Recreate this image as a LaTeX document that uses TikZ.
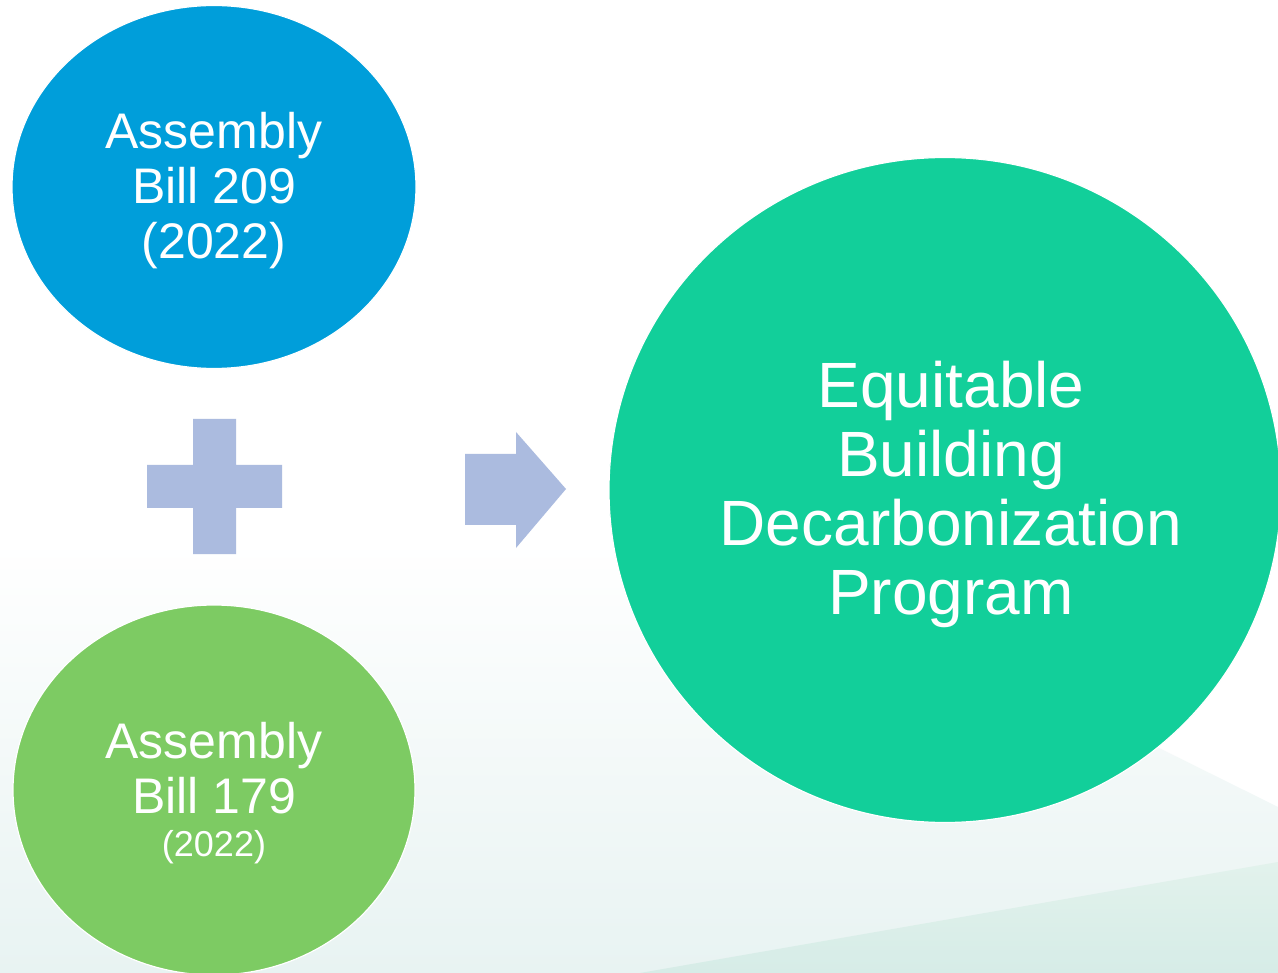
\documentclass[tikz,border=0pt]{standalone}
\usepackage{fontspec}
\setmainfont{Liberation Sans}
\usetikzlibrary{shapes.geometric}
\definecolor{billblue}{HTML}{009EDA}
\definecolor{billgreen}{HTML}{7DCB63}
\definecolor{progteal}{HTML}{12CF9A}
\definecolor{symblue}{HTML}{ABBBDF}
\definecolor{bgbottom}{HTML}{E8F3F2}
\definecolor{bandtop}{HTML}{E2F2EC}
\definecolor{bandbottom}{HTML}{D6ECE7}
\tikzset{
  bubble/.style={ellipse, inner sep=0pt, draw=white, line width=1.2pt},
  bubbletext/.style={inner sep=0pt, text=white, align=center},
  symbol/.style={fill=symblue, draw=none}
}
\begin{document}
\begin{tikzpicture}[x=1pt,y=-1pt]
\useasboundingbox (0,0) rectangle (1278,973);
% background
\fill[white] (0,0) rectangle (1278,973);
\shade[top color=white, bottom color=bgbottom] (0,540) -- (740,540) -- (1278,807) -- (1278,973) -- (0,973) -- cycle;
\shade[top color=bandtop, bottom color=bandbottom] (640,973) -- (1278,862) -- (1278,973) -- cycle;
% bubbles
\node[bubble, fill=billblue, minimum width=404pt, minimum height=363pt] (ab209) at (214,187) {};
\node[bubble, fill=billgreen, minimum width=402pt, minimum height=370pt] (ab179) at (214,790) {};
\node[bubble, fill=progteal, minimum width=672pt, minimum height=665pt] (ebdp) at (945,490) {};
% texts
\node[bubbletext, font=\fontsize{50}{55}\selectfont] (ab209t) at (214,191)
  {Assembly\\Bill 209\\(2022)};
\node[bubbletext, font=\fontsize{50}{55}\selectfont] (ab179t) at (214,768)
  {Assembly\\Bill 179};
\node[bubbletext, font=\fontsize{36}{40}\selectfont] (ab179y) at (214,847) {(2022)};
\node[bubbletext, font=\fontsize{64}{69}\selectfont] (ebdpt) at (951,494)
  {Equitable\\Building\\Decarbonization\\Program};
% plus sign
\fill[symbol] (193,419) -- (236,419) -- (236,465) -- (282,465) -- (282,508) -- (236,508)
  -- (236,554) -- (193,554) -- (193,508) -- (147,508) -- (147,465) -- (193,465) -- cycle;
% arrow
\fill[symbol] (465,454) -- (516,454) -- (516,432) -- (566,489) -- (516,548) -- (516,525) -- (465,525) -- cycle;
\end{tikzpicture}
\end{document}
